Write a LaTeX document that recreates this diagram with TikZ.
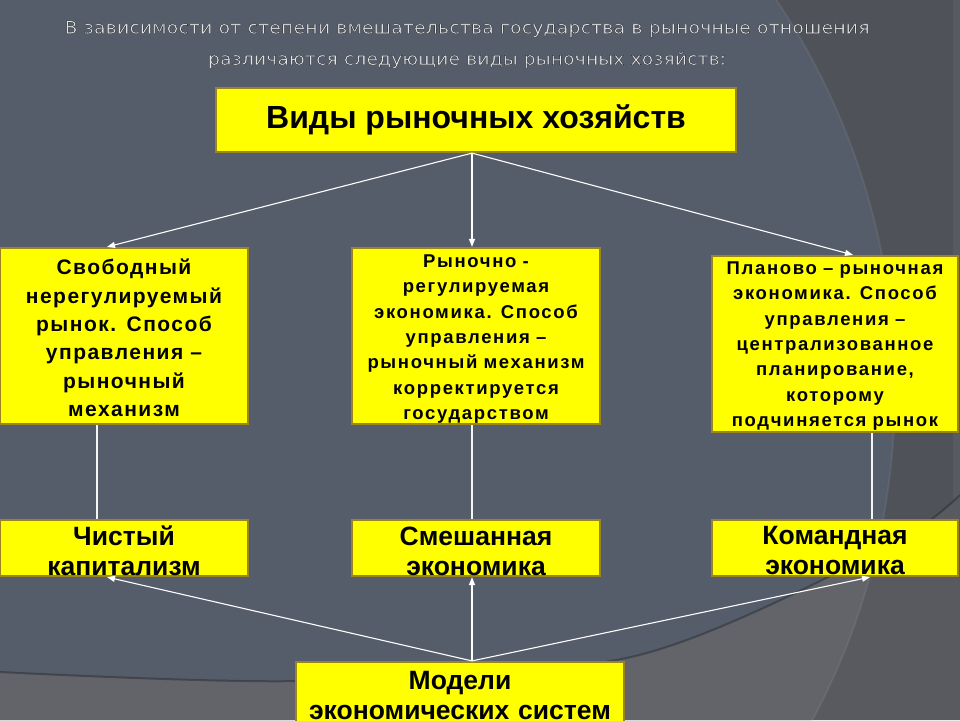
\documentclass[tikz,border=0pt]{standalone}
\usepackage{fontspec}
\usepackage{graphicx}
\setmainfont{Liberation Sans}
\newfontfamily\boxfont[LetterSpace=7]{Liberation Sans}
\newfontfamily\boxfontb[LetterSpace=9]{Liberation Sans}
\newfontfamily\titlefont{DejaVu Sans}
\usetikzlibrary{arrows.meta}
\definecolor{bgdark}{HTML}{505259}
\definecolor{bgdarklow}{HTML}{595A5F}
\definecolor{slate}{HTML}{555D6B}
\definecolor{slatelow}{HTML}{626469}
\definecolor{boxyellow}{HTML}{FFFF00}
\definecolor{boxedge}{HTML}{9A8420}
\definecolor{titlefill}{HTML}{E4E4E4}
\newcommand\titleone{В зависимости от степени вмешательства государства в рыночные отношения}
\newcommand\titletwo{различаются следующие виды рыночных хозяйств:}
\newcommand\outlined[1]{\special{pdf:literal direct 2 Tr 0.3 w 0.13 0.14 0.16 RG}#1\special{pdf:literal direct 0 Tr}}
\tikzset{
  ybox/.style={draw=boxedge, line width=2.2pt, fill=boxyellow, inner sep=0pt, align=center, text=black},
  smalltxt/.style={font=\boxfont\bfseries\fontsize{21}{28.3}\selectfont},
  midtxt/.style={font=\boxfontb\bfseries\fontsize{18.5}{25.4}\selectfont},
  bigtxt/.style={font=\bfseries\fontsize{26.5}{30}\selectfont},
  conn/.style={draw=white, line width=1.1pt, -{Triangle[length=8pt,width=6pt]}},
  vline/.style={draw=white!92!gray, line width=1.1pt},
  ttl/.style={inner sep=0pt, text=titlefill, font=\titlefont\fontsize{17.5}{20}\selectfont},
}
\begin{document}
\begin{tikzpicture}[x=1pt,y=-1pt]
\useasboundingbox (0,0) rectangle (960,720);
% background
\begin{scope}
\clip (0,0) rectangle (960,720);
\fill[bgdark] (0,0) rectangle (960,720);
\fill[white, opacity=0.05] (953,0) rectangle (960,720);
\fill[bgdarklow] plot[smooth] coordinates {(0,672) (300,681) (631,657) (882,550) (960,495)} -- (960,720) -- (0,720) -- cycle;
\begin{scope}
\clip (195,390) circle (700pt);
\fill[slate] (0,0) rectangle (960,720);
\fill[slatelow] plot[smooth] coordinates {(0,672) (300,681) (631,657) (882,550) (960,495)} -- (960,720) -- (0,720) -- cycle;
\end{scope}
\draw[white, opacity=0.06, line width=2pt] (195,390) circle (700pt);
\draw[black!60!slate, opacity=0.45, line width=2pt] plot[smooth] coordinates {(0,672) (300,681) (631,657) (882,550) (960,495)};
\end{scope}
% title
\node[ttl] (title1) at (467,29) {\outlined{\resizebox{805pt}{\height}{\titleone}}};
\node[ttl] (title2) at (467,60) {\outlined{\resizebox{518pt}{\height}{\titletwo}}};
% boxes
\node[ybox, minimum width=520pt, minimum height=64pt, font=\bfseries\fontsize{32}{36}\selectfont] (top) at (476,120) {Виды рыночных хозяйств};
\node[ybox, smalltxt, minimum width=248pt, minimum height=176pt, text width=246pt] (free) at (124,336)
  {\raisebox{-2pt}[\height][\depth]{\parbox{246pt}{\centering Свободный\\нерегулируемый\\рынок. Способ\\управления –\\рыночный\\механизм}}};
\node[ybox, midtxt, minimum width=248pt, minimum height=176pt, text width=246pt] (mixed) at (476,336)
  {\raisebox{-3pt}[\height][\depth]{\parbox{246pt}{\centering Рыночно -\\регулируемая\\экономика. Способ\\управления –\\рыночный механизм\\корректируется\\государством}}};
\node[ybox, midtxt, minimum width=246pt, minimum height=176pt, text width=244pt] (plan) at (835,344)
  {\raisebox{-2pt}[\height][\depth]{\parbox{244pt}{\centering Планово – рыночная\\экономика. Способ\\управления –\\централизованное\\планирование,\\которому\\подчиняется рынок}}};
\node[ybox, bigtxt, minimum width=248pt, minimum height=56pt, text width=244pt] (cap) at (124,548) {\raisebox{-3pt}[\height][\depth]{\parbox{244pt}{\centering Чистый\\капитализм}}};
\node[ybox, bigtxt, minimum width=248pt, minimum height=56pt, text width=244pt] (mix) at (476,548) {\raisebox{-3pt}[\height][\depth]{\parbox{244pt}{\centering Смешанная\\экономика}}};
\node[ybox, bigtxt, minimum width=246pt, minimum height=56pt, text width=242pt] (cmd) at (835,548) {\raisebox{-3pt}[\height][\depth]{\parbox{242pt}{\centering Командная\\экономика}}};
\node[ybox, bigtxt, minimum width=328pt, minimum height=76pt, text width=324pt] (models) at (460,700) {\raisebox{4pt}[\height][\depth]{\parbox{324pt}{\centering Модели\\экономических систем}}};
% connectors
\draw[conn] ([xshift=-4pt]top.south) -- ([xshift=-17pt]free.north);
\draw[conn] ([xshift=-4pt]top.south) -- ([xshift=-4pt]mixed.north);
\draw[conn] ([xshift=-4pt]top.south) -- ([xshift=18pt]plan.north);
\draw[vline] ([xshift=-27pt]free.south) -- ([xshift=-27pt]cap.north);
\draw[vline] ([xshift=-4pt]mixed.south) -- ([xshift=-4pt]mix.north);
\draw[vline] ([xshift=37pt]plan.south) -- ([xshift=37pt]cmd.north);
\draw[conn] ([xshift=12pt]models.north) -- ([xshift=-17pt]cap.south);
\draw[conn] ([xshift=12pt]models.north) -- ([xshift=-4pt]mix.south);
\draw[conn] ([xshift=12pt]models.north) -- ([xshift=35pt]cmd.south);
\end{tikzpicture}
\end{document}
